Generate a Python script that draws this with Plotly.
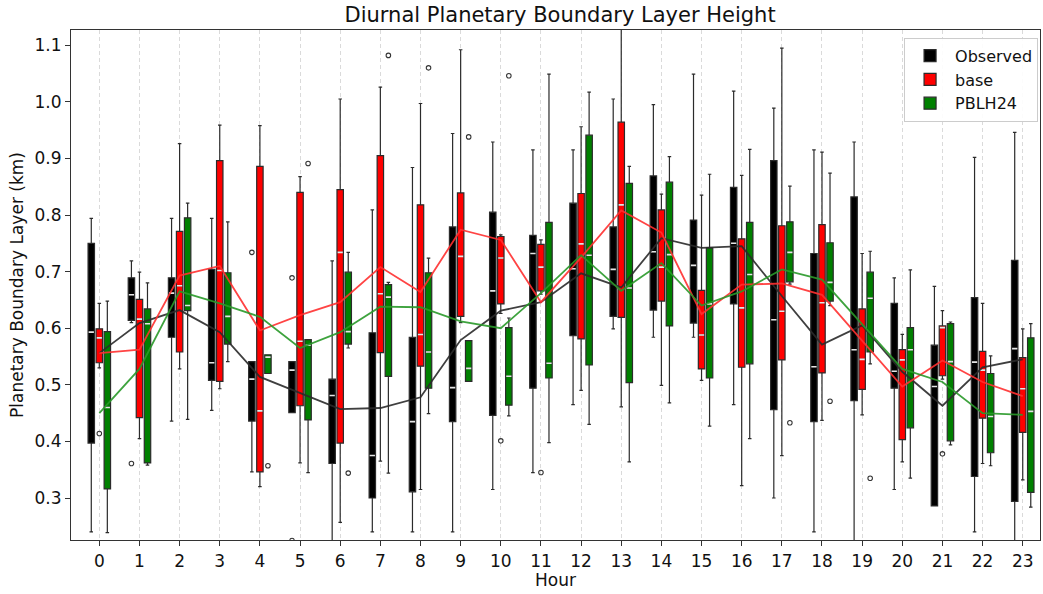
import plotly.graph_objects as go

hours = list(range(24))

# Observed PBLH (km): whisker top, Q3, median, Q1, whisker bottom, hourly mean
obs_hi = [0.794, 0.719, 0.794, 0.794, 0.541, 0.541, 0.719, 0.809, 0.884, 0.944, 0.929, 0.915,
          0.915, 1.005, 0.995, 1.049, 1.019, 0.989, 0.915, 0.929, 0.689, 0.674, 0.902, 0.946]
obs_q3 = [0.750, 0.689, 0.689, 0.704, 0.541, 0.541, 0.510, 0.592, 0.584, 0.779, 0.805, 0.764,
          0.821, 0.779, 0.869, 0.791, 0.849, 0.896, 0.732, 0.832, 0.644, 0.570, 0.654, 0.720]
obs_med = [0.593, 0.659, 0.662, 0.539, 0.510, 0.526, 0.481, 0.375, 0.435, 0.495, 0.666, 0.732,
           0.705, 0.704, 0.735, 0.711, 0.750, 0.615, 0.532, 0.562, 0.524, 0.497, 0.540, 0.564]
obs_q1 = [0.397, 0.614, 0.584, 0.508, 0.436, 0.451, 0.361, 0.300, 0.311, 0.435, 0.446, 0.494,
          0.587, 0.621, 0.632, 0.609, 0.643, 0.456, 0.435, 0.472, 0.494, 0.286, 0.338, 0.294]
obs_lo = [0.240, 0.610, 0.436, 0.455, 0.346, 0.451, 0.200, 0.240, 0.240, 0.240, 0.315, 0.345,
          0.465, 0.599, 0.584, 0.584, 0.465, 0.300, 0.240, 0.200, 0.315, 0.286, 0.240, 0.200]
obs_mean = [0.556, 0.609, 0.632, 0.593, 0.514, 0.485, 0.457, 0.459, 0.478, 0.579, 0.631, 0.646,
            0.697, 0.672, 0.759, 0.742, 0.745, 0.657, 0.571, 0.605, 0.523, 0.463, 0.531, 0.545]
obs_fly_h = [1, 4, 5, 5]
obs_fly_v = [0.361, 0.734, 0.689, 0.225]

# base simulation
base_hi = [0.644, 0.699, 0.926, 0.959, 0.958, 0.868, 1.005, 1.026, 0.997, 1.092, 0.765, 0.756,
           0.956, 1.160, 0.837, 0.835, 0.870, 1.095, 0.911, 0.732, 0.589, 0.631, 0.644, 0.599]
base_q3 = [0.599, 0.651, 0.771, 0.896, 0.886, 0.840, 0.845, 0.905, 0.818, 0.839, 0.762, 0.748,
           0.838, 0.964, 0.809, 0.667, 0.758, 0.781, 0.783, 0.634, 0.562, 0.604, 0.559, 0.548]
base_med = [0.583, 0.616, 0.675, 0.702, 0.454, 0.577, 0.734, 0.661, 0.589, 0.727, 0.724, 0.708,
            0.749, 0.818, 0.708, 0.588, 0.636, 0.630, 0.645, 0.545, 0.544, 0.601, 0.526, 0.493]
base_q1 = [0.539, 0.442, 0.558, 0.506, 0.346, 0.463, 0.397, 0.557, 0.533, 0.621, 0.643, 0.666,
           0.581, 0.619, 0.648, 0.528, 0.531, 0.544, 0.521, 0.492, 0.403, 0.516, 0.441, 0.416]
base_lo = [0.530, 0.405, 0.528, 0.493, 0.320, 0.362, 0.257, 0.365, 0.315, 0.610, 0.626, 0.660,
           0.490, 0.461, 0.499, 0.508, 0.322, 0.375, 0.437, 0.447, 0.364, 0.510, 0.361, 0.332]
base_mean = [0.556, 0.562, 0.693, 0.710, 0.596, 0.623, 0.646, 0.708, 0.664, 0.774, 0.756, 0.646,
             0.725, 0.808, 0.769, 0.625, 0.677, 0.679, 0.659, 0.578, 0.497, 0.543, 0.505, 0.480]
base_fly_h = [0, 10, 11, 21]
base_fly_v = [0.414, 0.401, 0.345, 0.378]

# PBLH24 simulation
p24_hi = [0.648, 0.680, 0.821, 0.788, 0.553, 0.580, 0.734, 0.681, 0.724, 0.578, 0.618, 1.049,
          1.017, 0.886, 0.903, 0.872, 0.916, 0.851, 0.874, 0.736, 0.703, 0.611, 0.551, 0.608]
p24_q3 = [0.594, 0.634, 0.795, 0.698, 0.553, 0.580, 0.699, 0.677, 0.698, 0.578, 0.601, 0.787,
          0.941, 0.856, 0.858, 0.742, 0.787, 0.788, 0.751, 0.699, 0.601, 0.608, 0.520, 0.583]
p24_med = [0.460, 0.608, 0.640, 0.621, 0.549, 0.570, 0.594, 0.655, 0.558, 0.529, 0.515, 0.538,
           0.729, 0.671, 0.730, 0.643, 0.695, 0.734, 0.681, 0.653, 0.562, 0.541, 0.444, 0.453]
p24_q1 = [0.316, 0.362, 0.631, 0.572, 0.520, 0.438, 0.572, 0.515, 0.494, 0.506, 0.464, 0.512,
          0.535, 0.504, 0.604, 0.512, 0.537, 0.682, 0.648, 0.558, 0.424, 0.401, 0.380, 0.310]
p24_lo = [0.239, 0.358, 0.439, 0.541, 0.520, 0.345, 0.565, 0.344, 0.449, 0.506, 0.445, 0.398,
          0.430, 0.364, 0.468, 0.427, 0.405, 0.678, 0.640, 0.537, 0.335, 0.394, 0.357, 0.284]
p24_mean = [0.450, 0.528, 0.665, 0.644, 0.620, 0.565, 0.593, 0.638, 0.637, 0.612, 0.600, 0.662,
            0.729, 0.666, 0.715, 0.640, 0.665, 0.704, 0.686, 0.607, 0.528, 0.505, 0.450, 0.447]
p24_fly_h = [4, 5, 6, 7, 8, 9, 10, 17, 18, 19]
p24_fly_v = [0.357, 0.891, 0.344, 1.082, 1.060, 0.938, 1.046, 0.433, 0.471, 0.335]

BOX_W = 0.16
EDGE = "#2b2b2b"

series = [
    ("Observed", -0.2, "#000000", "#2b2b2b", obs_hi, obs_q3, obs_med, obs_q1, obs_lo, obs_mean, obs_fly_h, obs_fly_v),
    ("base", 0.0, "#ff0000", "#ff3030", base_hi, base_q3, base_med, base_q1, base_lo, base_mean, base_fly_h, base_fly_v),
    ("PBLH24", 0.2, "#008000", "#2a9a2a", p24_hi, p24_q3, p24_med, p24_q1, p24_lo, p24_mean, p24_fly_h, p24_fly_v),
]

fig = go.Figure()

for name, off, fill, _, hi, q3, med, q1, lo, _m, fh, fv in series:
    pos = [h + off for h in hours]
    fig.add_trace(go.Box(
        x=pos, q1=q1, median=med, q3=q3, lowerfence=lo, upperfence=hi,
        name=name, width=BOX_W, fillcolor=fill,
        line=dict(color=EDGE, width=1.2), whiskerwidth=0.55,
        boxpoints=False, showlegend=True, hoverinfo="skip",
    ))
    # median bars in light grey across each box
    fig.add_trace(go.Box(
        x=pos, q1=med, median=med, q3=med, lowerfence=med, upperfence=med,
        width=BOX_W - 0.03, fillcolor="rgba(0,0,0,0)",
        line=dict(color="#e6e6e6", width=1.6), whiskerwidth=0,
        boxpoints=False, showlegend=False, hoverinfo="skip",
    ))
    # outliers
    fig.add_trace(go.Scatter(
        x=[h + off for h in fh], y=fv, mode="markers",
        marker=dict(symbol="circle-open", size=4.5, color="#333333", line=dict(width=1.1)),
        showlegend=False, hoverinfo="skip",
    ))

# hourly mean lines on top of the boxes
for name, off, fill, lc, *_rest in series:
    mean = _rest[5]
    fig.add_trace(go.Scatter(
        x=hours, y=mean, mode="lines",
        line=dict(color=lc, width=1.8), opacity=0.9,
        showlegend=False, hoverinfo="skip",
    ))

fig.update_layout(
    width=1043, height=594,
    margin=dict(l=71, r=3, t=30, b=54),
    plot_bgcolor="white", paper_bgcolor="white",
    font=dict(family="DejaVu Sans", size=17, color="#111111"),
    boxmode="overlay",
    title=dict(text="Diurnal Planetary Boundary Layer Height", x=0.537, xanchor="center",
               y=0.975, yanchor="middle", font=dict(size=21)),
    legend=dict(x=0.998, xanchor="right", y=0.985, yanchor="top",
                bordercolor="#cccccc", borderwidth=1, bgcolor="rgba(255,255,255,0.9)",
                font=dict(size=16), itemwidth=40, tracegroupgap=2),
)
fig.update_xaxes(
    range=[-0.705, 23.43], tickmode="array", tickvals=hours, ticktext=[str(h) for h in hours],
    showgrid=True, gridcolor="#dadada", griddash="4px,3px", gridwidth=1,
    showline=True, linecolor="#333333", linewidth=1.2, mirror=True,
    ticks="outside", ticklen=5, tickcolor="#333333", zeroline=False,
    title=dict(text="Hour", standoff=4, font=dict(size=17)),
)
fig.update_yaxes(
    range=[0.2258, 1.1269], tickmode="array",
    tickvals=[0.3, 0.4, 0.5, 0.6, 0.7, 0.8, 0.9, 1.0, 1.1],
    ticktext=["0.3", "0.4", "0.5", "0.6", "0.7", "0.8", "0.9", "1.0", "1.1"],
    showgrid=False, showline=True, linecolor="#333333", linewidth=1.2, mirror=True,
    ticks="outside", ticklen=5, tickcolor="#333333", zeroline=False,
    title=dict(text="Planetary Boundary Layer (km)", standoff=6, font=dict(size=17)),
)

fig.write_html("out.html")
